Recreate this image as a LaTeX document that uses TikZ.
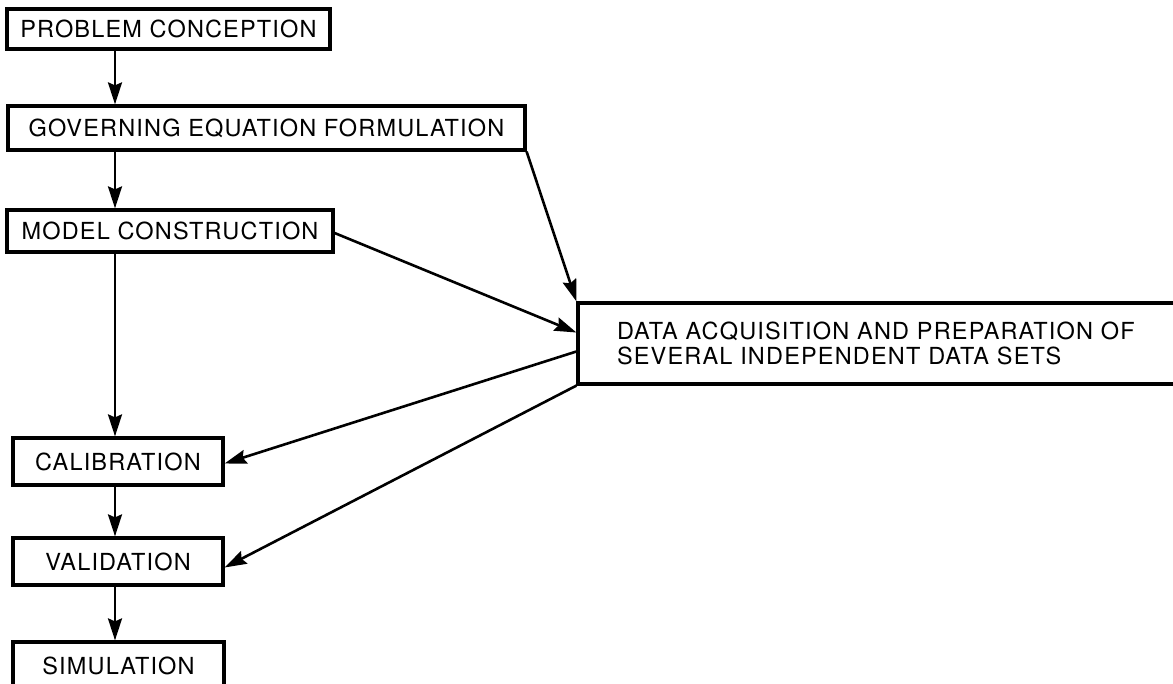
\documentclass[tikz,border=0pt]{standalone}
\usepackage{fontspec}
\setmainfont{TeX Gyre Heros}[LetterSpace=5]
\usetikzlibrary{arrows.meta}
\begin{document}
\begin{tikzpicture}[x=1pt,y=-1pt,
  stepbox/.style={draw, line width=3.2pt, rectangle, inner sep=0pt,
    font=\fontsize{23.5}{25}\selectfont},
  flow/.style={line width=2.6pt, -{Stealth[length=22pt,width=14pt,inset=3pt]}}]
\useasboundingbox (0,0) rectangle (1173,684);
\node[stepbox, minimum width=323pt, minimum height=40pt] (pc) at (168.5,29) {PROBLEM CONCEPTION};
\node[stepbox, minimum width=517pt, minimum height=44pt] (ge) at (266.5,128) {GOVERNING EQUATION FORMULATION};
\node[stepbox, minimum width=326pt, minimum height=42pt] (mc) at (170,231) {MODEL CONSTRUCTION};
\node[stepbox, minimum width=620pt, minimum height=81pt, text width=542pt, align=left, inner xsep=39pt] (da) at (888,343.5) {DATA ACQUISITION AND PREPARATION OF\\SEVERAL INDEPENDENT DATA SETS};
\node[stepbox, minimum width=210pt, minimum height=47pt] (ca) at (118,461.5) {CALIBRATION};
\node[stepbox, minimum width=210pt, minimum height=47pt] (va) at (118,561.5) {VALIDATION};
\node[stepbox, minimum width=211pt, minimum height=48pt] (si) at (118.5,666) {SIMULATION};
\coordinate (x0) at (115,0);
\draw[flow] (pc.south -| x0) -- (ge.north -| x0);
\draw[flow] (ge.south -| x0) -- (mc.north -| x0);
\draw[flow] (mc.south -| x0) -- (ca.north -| x0);
\draw[flow] (ca.south -| x0) -- (va.north -| x0);
\draw[flow] (va.south -| x0) -- (si.north -| x0);
\draw[flow] (ge.south east) -- (da.north west);
\draw[flow] ([yshift=-2pt]mc.east) -- ([yshift=11pt]da.west);
\draw[flow] ([yshift=-8pt]da.west) -- ([yshift=-2pt]ca.east);
\draw[flow] (da.south west) -- ([yshift=-6pt]va.east);
\end{tikzpicture}
\end{document}
